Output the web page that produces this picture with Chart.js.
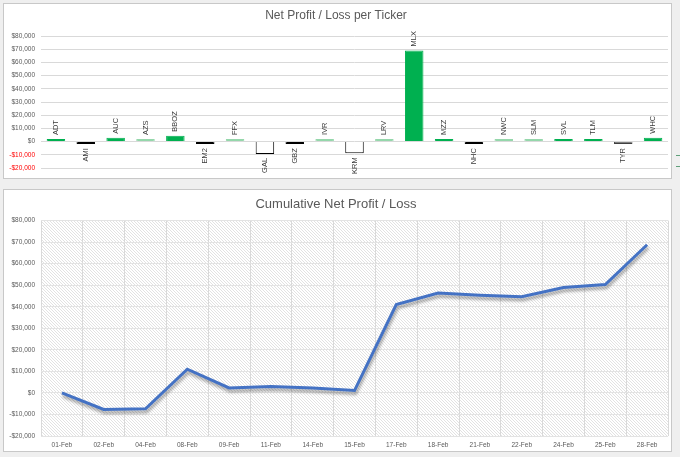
<!DOCTYPE html>
<html>
<head>
<meta charset="utf-8">
<script src="https://cdn.jsdelivr.net/npm/chart.js@4"></script>
<style>
  body { margin: 0; background: #efefef; width: 680px; height: 457px; position: relative; overflow: hidden; }
  .panel { position: absolute; left: 3px; width: 667px; background: #fff; border: 1px solid #c8c8c8; }
  #p1 { top: 3px; height: 174px; }
  #p2 { top: 189px; height: 261px; }
  canvas { display: block; }
  .tick { position: absolute; left: 676px; width: 4px; height: 1px; background: #5f9f7a; }
</style>
</head>
<body>
<div class="panel" id="p1"><canvas id="ticker" width="667" height="174"></canvas></div>
<div class="panel" id="p2"><canvas id="cumulative" width="667" height="261"></canvas></div>
<div class="tick" style="top:155px"></div>
<div class="tick" style="top:166px"></div>
<script>
const tickers = ['ADT', 'AMI', 'AUC', 'AZS', 'BBOZ', 'EM2', 'FFX', 'GAL', 'GBZ', 'IVR', 'KRM',
                 'LRV', 'MLX', 'MZZ', 'NHC', 'NWC', 'SLM', 'SVL', 'TLM', 'TYR', 'WHC'];
const tickerProfit = [1400, -700, 3000, 300, 4500, -800, 300, -9300, -800, 300, -8800,
                      300, 69000, 1300, -800, 300, 300, 2000, 1500, -1200, 3000];

const dates = ['01-Feb', '02-Feb', '04-Feb', '08-Feb', '09-Feb', '11-Feb', '14-Feb', '15-Feb',
               '17-Feb', '18-Feb', '21-Feb', '22-Feb', '24-Feb', '25-Feb', '28-Feb'];
const cumulative = [0, -7700, -7400, 11000, 2300, 3000, 2300, 1100,
                    41000, 46400, 45400, 44700, 48900, 50300, 68800];

const yMin = -20000;
const yMax = 80000;
const yStep = 10000;

const labelFont = '"Liberation Sans", Arial, sans-serif';

function money(v) {
    return (v < 0 ? '-' : '') + '$' + Math.abs(v).toLocaleString('en-US');
}

function fillColor(v) {
    if (v >= 1000) return '#00b050';
    if (v >= 0) return '#95d7ab';
    if (v > -1000) return '#000000';
    if (v > -5000) return '#7f7f7f';
    return '#ffffff';
}

function edgeColor(v) {
    if (v >= 1000) return '#00b050';
    if (v >= 0) return '#95d7ab';
    if (v > -5000 && v <= -1000) return '#404040';
    return '#000000';
}

// category names written along each bar
const barLabels = {
    id: 'barLabels',
    afterDatasetsDraw(chart) {
        const ctx = chart.ctx;
        const meta = chart.getDatasetMeta(0);
        ctx.save();
        ctx.font = '7.5px ' + labelFont;
        ctx.fillStyle = '#3a3a3a';
        ctx.textBaseline = 'middle';
        meta.data.forEach((bar, i) => {
            const v = tickerProfit[i];
            ctx.save();
            if (v >= 0) {
                ctx.translate(bar.x, Math.min(bar.y, bar.base) - 4);
                ctx.rotate(-Math.PI / 2);
                ctx.textAlign = 'left';
            } else {
                ctx.translate(bar.x, Math.max(bar.y, bar.base) + 4);
                ctx.rotate(-Math.PI / 2);
                ctx.textAlign = 'right';
            }
            ctx.fillText(tickers[i], 0, 0);
            ctx.restore();
        });
        ctx.restore();
    }
};

// hatched plot background
function hatch(ctx) {
    const c = document.createElement('canvas');
    c.width = 3;
    c.height = 3;
    const p = c.getContext('2d');
    p.fillStyle = '#ffffff';
    p.fillRect(0, 0, 3, 3);
    p.strokeStyle = '#e2e2e2';
    p.lineWidth = 1;
    p.beginPath();
    p.moveTo(-1, -1);
    p.lineTo(4, 4);
    p.moveTo(-1, 2);
    p.lineTo(1, 4);
    p.moveTo(2, -1);
    p.lineTo(4, 1);
    p.stroke();
    return ctx.createPattern(c, 'repeat');
}

const plotHatch = {
    id: 'plotHatch',
    beforeDraw(chart) {
        const a = chart.chartArea;
        const ctx = chart.ctx;
        ctx.save();
        ctx.fillStyle = hatch(ctx);
        ctx.fillRect(a.left, a.top, a.right - a.left, a.bottom - a.top);
        ctx.restore();
    }
};

const lineShadow = {
    id: 'lineShadow',
    beforeDatasetDraw(chart) {
        const ctx = chart.ctx;
        ctx.save();
        ctx.shadowColor = 'rgba(0, 0, 0, 0.35)';
        ctx.shadowBlur = 3;
        ctx.shadowOffsetY = 3;
        ctx.shadowOffsetX = 1;
    },
    afterDatasetDraw(chart) {
        chart.ctx.restore();
    }
};

const yTicks = {
    stepSize: yStep,
    padding: 6,
    font: { size: 6.5, family: labelFont },
    callback: v => money(v)
};

const myTicker = new Chart(document.getElementById('ticker').getContext('2d'), {
    type: 'bar',
    data: {
        labels: tickers,
        datasets: [
            {
                label: 'Net Profit / Loss',
                data: tickerProfit,
                backgroundColor: tickerProfit.map(fillColor),
                borderColor: tickerProfit.map(edgeColor),
                borderWidth: 1,
                minBarLength: 2.5,
                barPercentage: 0.62,
                categoryPercentage: 1,
            },
        ],
    },
    options: {
        responsive: false,
        animation: false,
        layout: { padding: { left: 0, right: 3, bottom: 10 } },
        plugins: {
            legend: { display: false },
            tooltip: { enabled: false },
            title: {
                display: true,
                text: 'Net Profit / Loss per Ticker',
                color: '#595959',
                font: { size: 12, weight: 'normal', family: labelFont },
                padding: { top: 4, bottom: 13.6 },
            },
        },
        scales: {
            x: { display: false },
            y: {
                min: yMin,
                max: yMax,
                ticks: Object.assign({}, yTicks, {
                    color: c => c.tick && c.tick.value < 0 ? '#ff0000' : '#595959'
                }),
                grid: { color: '#d9d9d9', drawTicks: false },
                border: { display: false },
                afterFit: s => { s.width = 37; },
            },
        },
    },
    plugins: [barLabels],
});

const myCumulative = new Chart(document.getElementById('cumulative').getContext('2d'), {
    type: 'line',
    data: {
        labels: dates,
        datasets: [
            {
                label: 'Cumulative Net Profit / Loss',
                data: cumulative,
                borderColor: '#4472c4',
                borderWidth: 3,
                pointRadius: 0,
                tension: 0,
                fill: false,
            },
        ],
    },
    options: {
        responsive: false,
        animation: false,
        layout: { padding: { left: 0, right: 3 } },
        plugins: {
            legend: { display: false },
            tooltip: { enabled: false },
            title: {
                display: true,
                text: 'Cumulative Net Profit / Loss',
                color: '#595959',
                font: { size: 13, weight: 'normal', family: labelFont },
                padding: { top: 7, bottom: 8 },
            },
        },
        scales: {
            x: {
                offset: true,
                ticks: { color: '#595959', padding: 5, font: { size: 6.5, family: labelFont }, maxRotation: 0 },
                grid: { color: '#d9d9d9', offset: true, drawTicks: false },
                border: { display: false },
                afterFit: s => { s.height = 15; },
            },
            y: {
                min: yMin,
                max: yMax,
                ticks: Object.assign({}, yTicks, { color: '#595959' }),
                grid: { color: '#e3e3e3', drawTicks: false },
                border: { display: false },
                afterFit: s => { s.width = 37; },
            },
        },
    },
    plugins: [plotHatch, lineShadow],
});
</script>
</body>
</html>
